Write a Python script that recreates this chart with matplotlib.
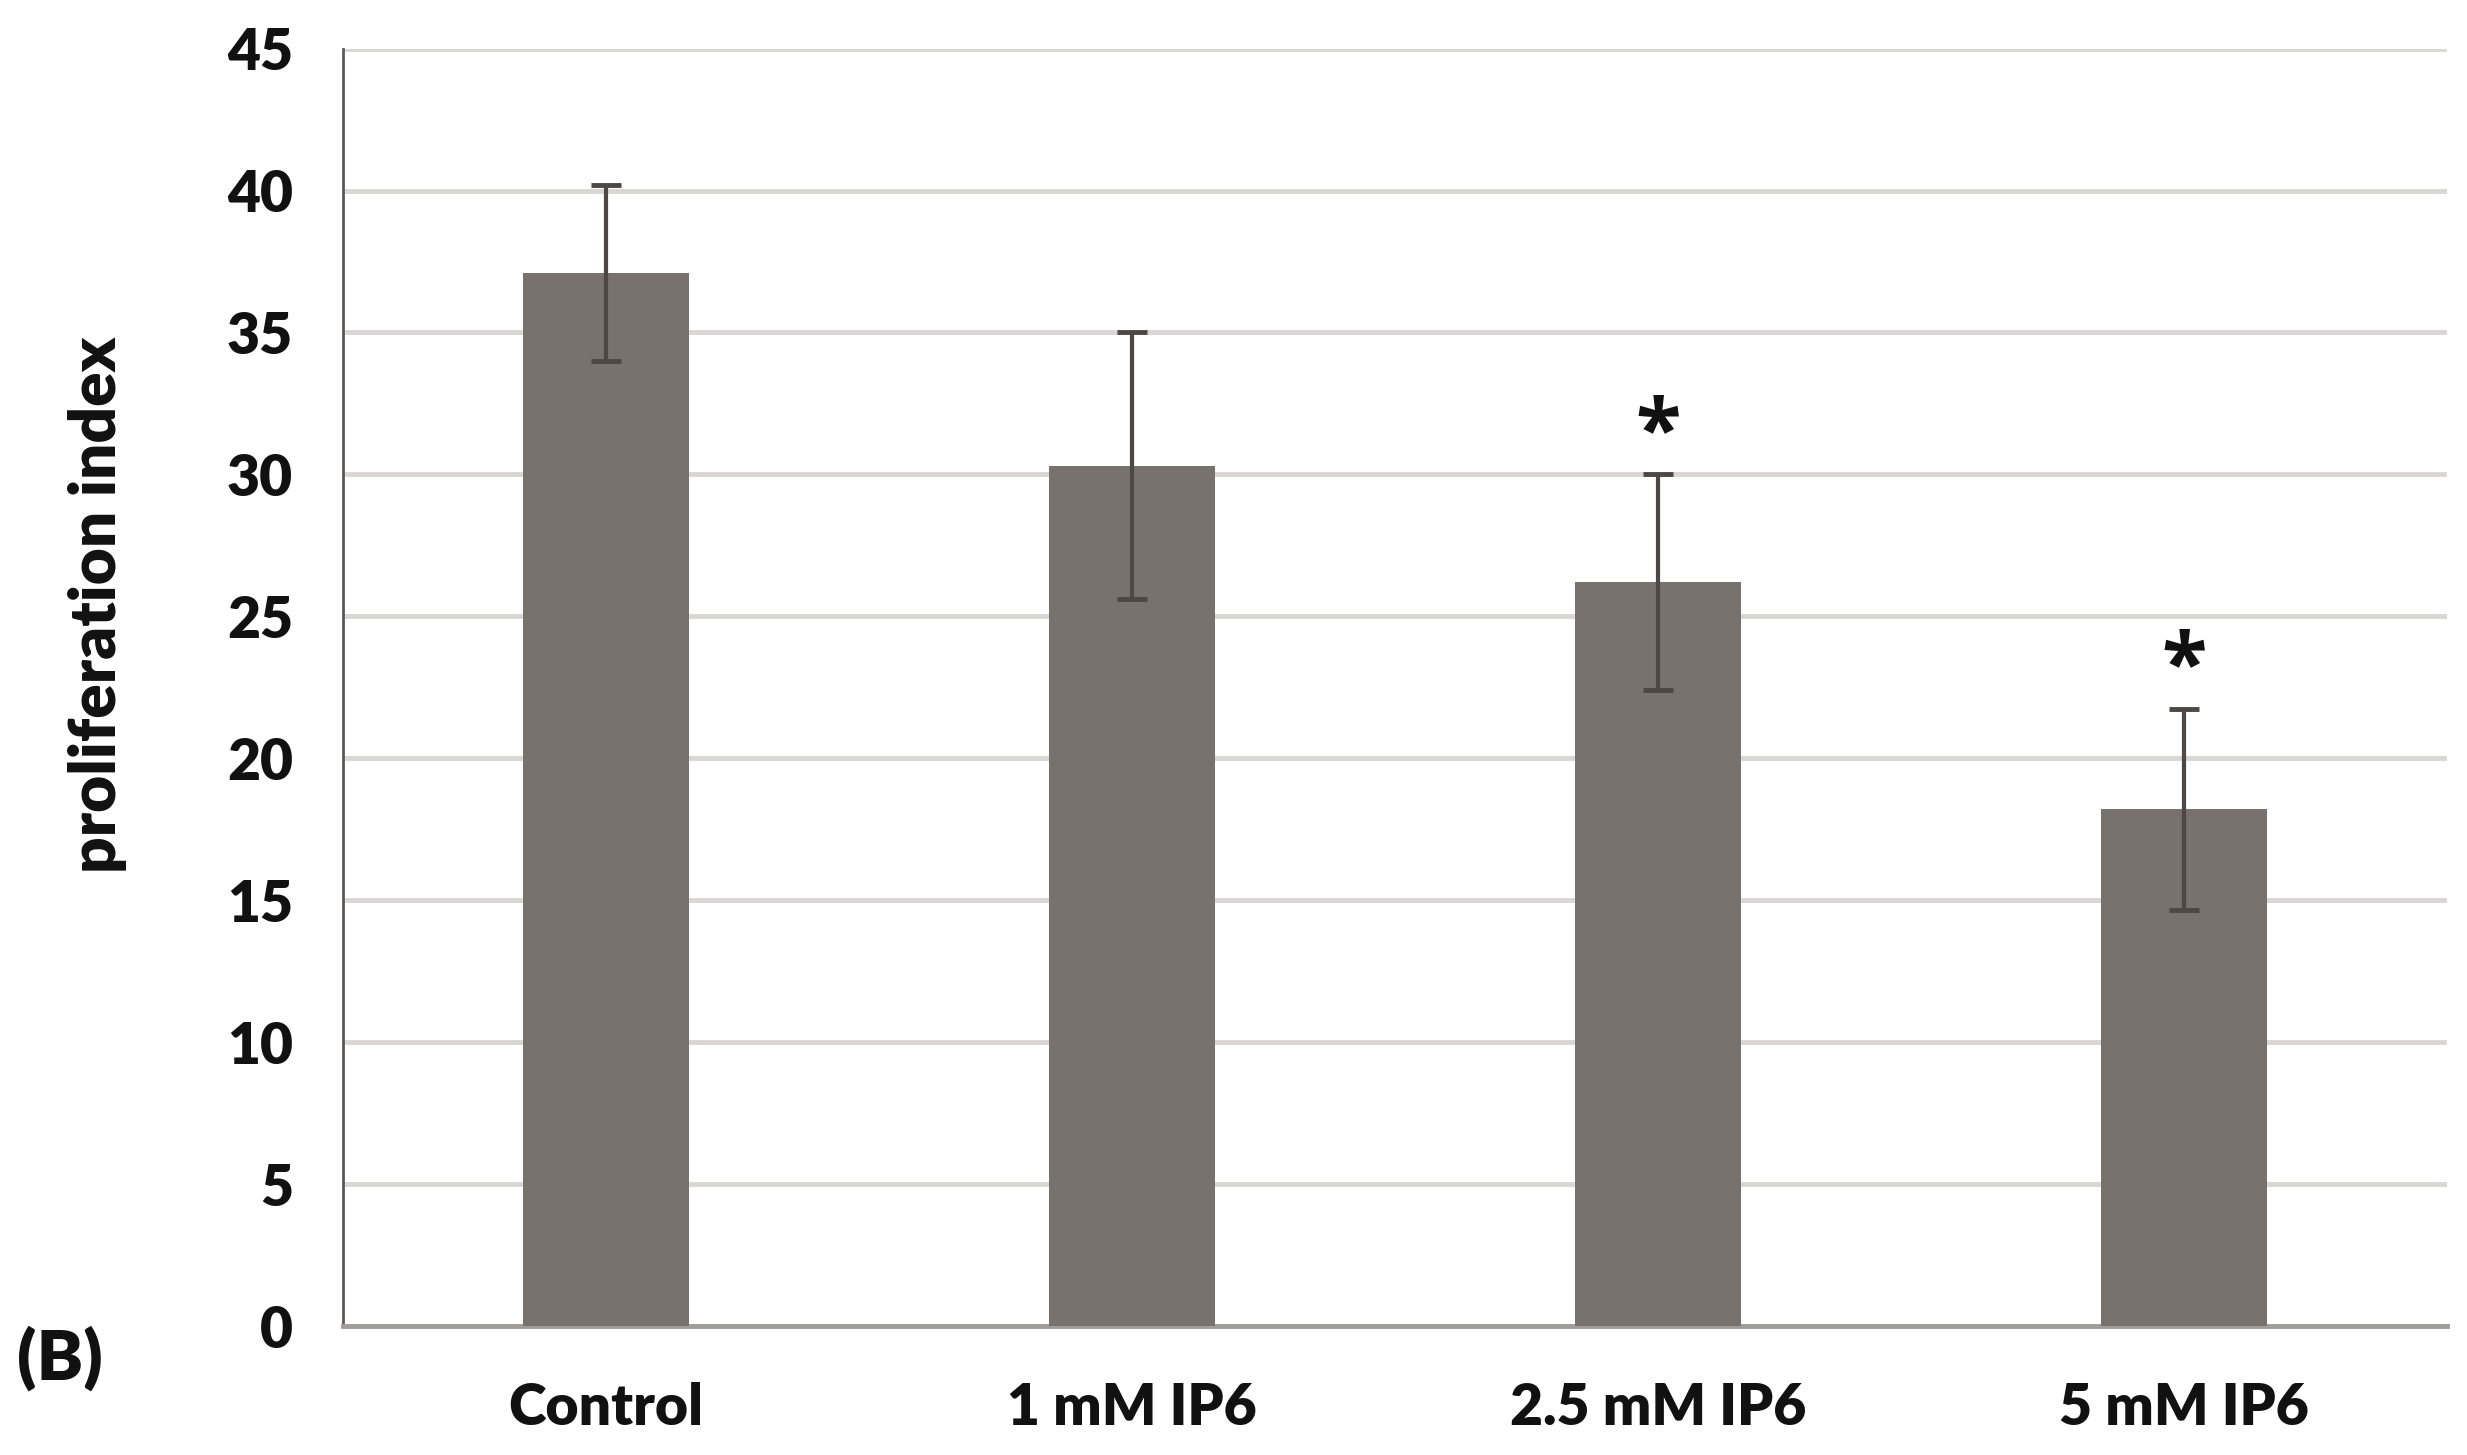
import matplotlib
matplotlib.use("Agg")
import matplotlib.pyplot as plt
import numpy as np

categories = ["Control", "1 mM IP6", "2.5 mM IP6", "5 mM IP6"]
means = [37.1, 30.3, 26.2, 18.2]
errors = [3.1, 4.7, 3.8, 3.55]
significant = [False, False, True, True]
yticks = [0, 5, 10, 15, 20, 25, 30, 35, 40, 45]

plt.rcParams['font.family'] = ['Lato', 'DejaVu Sans']
W = 'heavy'

fig = plt.figure(figsize=(24.67, 14.55), dpi=100)
ax = fig.add_axes([0.139, 0.0886, 0.853, 0.878])

x = np.arange(len(categories))
ax.bar(x, means, width=0.315, color='#78726e', zorder=3)
ax.errorbar(x, means, yerr=errors, fmt='none', ecolor='#4d4845',
            elinewidth=3, capsize=11, capthick=3.5, zorder=4)
for xi, m, e, s in zip(x, means, errors, significant):
    if s:
        ax.text(xi, m + e - 0.1, "*", ha='center', va='bottom',
                fontsize=60, fontweight='bold', color='#111111', zorder=5,
                family=['Open Sans', 'DejaVu Sans'])

ax.set_xlim(-0.5, len(categories) - 0.5)
ax.set_ylim(0, 45)
ax.set_yticks(yticks)
ax.set_xticks(x)
ax.set_xticklabels(categories)
ax.yaxis.grid(True, color='#d9d6d4', linewidth=3.5, zorder=0)
ax.set_axisbelow(True)

for side in ['top', 'right']:
    ax.spines[side].set_visible(False)
ax.spines['left'].set_color('#5a5a5a')
ax.spines['left'].set_linewidth(2)
ax.spines['bottom'].set_color('#a09c9a')
ax.spines['bottom'].set_linewidth(3.5)

ax.tick_params(axis='y', length=0, pad=36, labelsize=41)
ax.tick_params(axis='x', length=0, pad=40, labelsize=41)
for lab in ax.get_xticklabels() + ax.get_yticklabels():
    lab.set_fontweight(W)
    lab.set_color('#111111')

fig.text(0.0395, 0.584, "proliferation index", rotation=90, ha='center', va='center',
         fontsize=46, fontweight=W, color='#111111')
fig.text(0.007, 0.066, "(B)", ha='left', va='center',
         fontsize=50, fontweight=W, color='#111111')

fig.savefig("out.png", dpi=100, facecolor='white')
